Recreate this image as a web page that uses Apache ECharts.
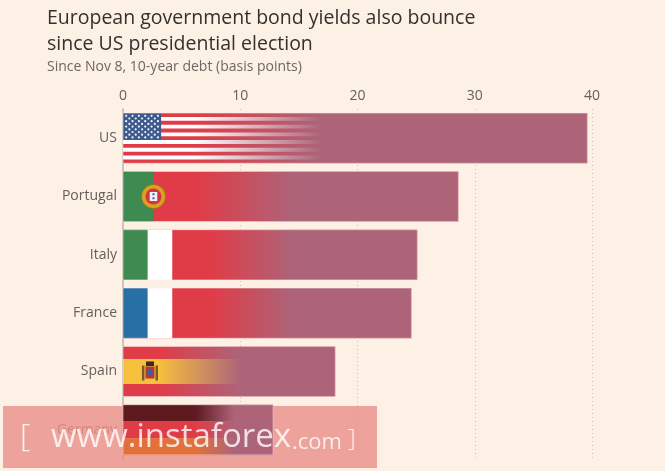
<!DOCTYPE html>
<html lang="en">
<head>
    <meta charset="UTF-8">
    <title>European government bond yields</title>
    <script src="https://cdn.jsdelivr.net/npm/echarts@6/dist/echarts.min.js"></script>
    <style>
        html, body { margin: 0; padding: 0; background: #fdf0e4; }
        #chart { width: 665px; height: 471px; }
    </style>
</head>
<body>
<div id="chart"></div>
<script>
    // data (change in basis points since Nov 8)
    var countries = ['US', 'Portugal', 'Italy', 'France', 'Spain', 'Germany'];
    var yieldChange = [39.6, 28.6, 25.1, 24.6, 18.1, 12.8];
    var xTicks = [0, 10, 20, 30, 40];

    var MAUVE = '173,100,121';
    var RED = '#e03c47';
    var WHITE = '#ffffff';

    // where each flag starts and ends fading into the bar colour (in basis points)
    var fadeRange = {
        US: [6.0, 17.0],
        Portugal: [6.4, 14.5],
        Italy: [7.5, 14.5],
        France: [7.5, 14.5],
        Spain: [3.0, 10.0],
        Germany: [6.2, 9.5]
    };

    function rect(x, y, w, h, fill) {
        return { type: 'rect', shape: { x: x, y: y, width: w, height: h }, style: { fill: fill } };
    }

    var flags = {
        US: function (x, y, w, h, u) {
            var out = [rect(x, y, w, h, RED)];
            var sh = h / 13;
            for (var k = 1; k < 13; k += 2) {
                out.push(rect(x, y + k * sh, w, sh, WHITE));
            }
            var cw = 0.76 * h, ch = 7 * sh;
            out.push(rect(x, y, cw, ch, '#3c5a8e'));
            for (var r = 0; r < 9; r++) {
                var n = r % 2 === 0 ? 6 : 5;
                for (var s = 0; s < n; s++) {
                    var cx = x + cw / 12 * (r % 2 === 0 ? 1 + 2 * s : 2 + 2 * s);
                    var cy = y + ch / 10 * (r + 1);
                    out.push({ type: 'circle', shape: { cx: cx, cy: cy, r: h * 0.022 }, style: { fill: '#f4f4f8' } });
                }
            }
            return out;
        },
        Portugal: function (x, y, w, h, u) {
            var gx = x + 2.6 * u, cy = y + h / 2;
            return [
                rect(x, y, w, h, RED),
                rect(x, y, 2.6 * u, h, '#3e8a50'),
                { type: 'circle', shape: { cx: gx, cy: cy, r: h * 0.24 }, style: { fill: '#d7a321', stroke: '#8f6c12', lineWidth: 0.6 } },
                { type: 'circle', shape: { cx: gx, cy: cy, r: h * 0.16 }, style: { fill: '#d63440' } },
                rect(gx - h * 0.075, cy - h * 0.09, h * 0.15, h * 0.18, '#f2f2f2'),
                rect(gx - h * 0.02, cy - h * 0.065, h * 0.04, h * 0.04, '#3a5ea8'),
                rect(gx - h * 0.02, cy + h * 0.015, h * 0.04, h * 0.04, '#3a5ea8')
            ];
        },
        Italy: function (x, y, w, h, u) {
            return [
                rect(x, y, w, h, RED),
                rect(x, y, 2.1 * u, h, '#3e8a50'),
                rect(x + 2.1 * u, y, 2.1 * u, h, WHITE)
            ];
        },
        France: function (x, y, w, h, u) {
            return [
                rect(x, y, w, h, RED),
                rect(x, y, 2.1 * u, h, '#2770a5'),
                rect(x + 2.1 * u, y, 2.1 * u, h, WHITE)
            ];
        },
        Spain: function (x, y, w, h, u) {
            var ex = x + 2.3 * u, cy = y + h / 2;
            return [
                rect(x, y, w, h, RED),
                rect(x, y + h / 4, w, h / 2, '#f7c13d'),
                rect(ex - h * 0.16, cy - h * 0.12, h * 0.05, h * 0.3, '#7a5a2a'),
                rect(ex + h * 0.11, cy - h * 0.12, h * 0.05, h * 0.3, '#7a5a2a'),
                rect(ex - h * 0.09, cy - h * 0.1, h * 0.18, h * 0.24, '#b8363a'),
                rect(ex - h * 0.05, cy - h * 0.05, h * 0.1, h * 0.12, '#3e5aa0'),
                rect(ex - h * 0.08, cy - h * 0.2, h * 0.16, h * 0.09, '#3a2a20')
            ];
        },
        Germany: function (x, y, w, h, u) {
            return [
                rect(x, y, w, h / 3, '#5e1a1f'),
                rect(x, y + h / 3, w, h / 3, RED),
                rect(x, y + 2 * h / 3, w, h / 3 + 0.5, '#e2703a')
            ];
        }
    };

    function renderItem(params, api) {
        var i = params.dataIndex;
        var v = api.value(0);
        var c = api.value(1);
        var p0 = api.coord([0, c]);
        var p1 = api.coord([v, c]);
        var h = api.size([0, 1])[1] * 0.86;
        var u = api.size([1, 0])[0];
        var x = p0[0], y = p0[1] - h / 2, w = p1[0] - p0[0];
        var name = countries[i];
        var children = flags[name](x, y, w, h, u);
        var f = fadeRange[name];
        children.push({
            type: 'rect',
            shape: { x: x, y: y, width: w, height: h },
            style: {
                fill: new echarts.graphic.LinearGradient(0, 0, 1, 0, [
                    { offset: 0, color: 'rgba(' + MAUVE + ',0)' },
                    { offset: Math.min(f[0] / v, 1), color: 'rgba(' + MAUVE + ',0)' },
                    { offset: Math.min(f[1] / v, 1), color: 'rgba(' + MAUVE + ',1)' },
                    { offset: 1, color: 'rgba(' + MAUVE + ',1)' }
                ]),
                stroke: 'rgba(255,235,235,0.5)',
                lineWidth: 1
            }
        });
        return { type: 'group', children: children };
    }

    var myChart = echarts.init(document.getElementById('chart'));

    var option = {
        backgroundColor: '#fdf0e4',
        animation: false,
        textStyle: { fontFamily: 'Open Sans' },
        title: {
            text: 'European government bond yields also bounce\nsince US presidential election',
            subtext: 'Since Nov 8, 10-year debt (basis points)',
            left: 42,
            top: 0,
            itemGap: 3,
            textStyle: { fontSize: 19.5, lineHeight: 26, fontWeight: 'normal', color: '#33302e', fontFamily: 'Open Sans' },
            subtextStyle: { fontSize: 14, color: '#6d6762', fontFamily: 'Open Sans' }
        },
        grid: { left: 123, right: 73, top: 109, bottom: 12 },
        xAxis: {
            type: 'value',
            position: 'top',
            min: xTicks[0],
            max: xTicks[xTicks.length - 1],
            interval: xTicks[1] - xTicks[0],
            axisLine: { show: false },
            axisTick: { show: false },
            axisLabel: { color: '#66605c', fontSize: 14, margin: 6 },
            splitLine: { lineStyle: { color: '#cbc1b8', type: [1, 3] } }
        },
        yAxis: {
            type: 'category',
            data: countries,
            inverse: true,
            axisLine: { show: true, lineStyle: { color: '#c2b8ae', width: 1.5 } },
            axisTick: { show: false },
            axisLabel: {
                fontSize: 14,
                margin: 6,
                color: function (value) {
                    return value === 'Germany' ? '#c07e78' : '#66605c';
                }
            },
            splitLine: { show: false }
        },
        series: [{
            type: 'custom',
            z: 3,
            renderItem: renderItem,
            encode: { x: 0, y: 1 },
            data: countries.map(function (c, i) { return [yieldChange[i], i]; })
        }],
        graphic: [
            {
                type: 'rect', z: 1, silent: true,
                shape: { x: 3, y: 406, width: 374, height: 62 },
                style: { fill: 'rgba(230,129,124,0.7)' }
            },
            {
                type: 'text', z: 100, silent: true, x: 20, y: 437,
                style: { text: '[', fill: 'rgba(255,255,255,0.85)', font: '300 32px "Open Sans"', verticalAlign: 'middle' }
            },
            {
                type: 'text', z: 100, silent: true, x: 51, y: 438,
                style: { text: 'www.instaforex', fill: 'rgba(255,255,255,0.8)', font: '33px "Open Sans"', verticalAlign: 'middle' }
            },
            {
                type: 'text', z: 100, silent: true, x: 292, y: 443,
                style: { text: '.com', fill: 'rgba(255,255,255,0.8)', font: '22px "Open Sans"', verticalAlign: 'middle' }
            },
            {
                type: 'text', z: 100, silent: true, x: 348, y: 439,
                style: { text: ']', fill: 'rgba(255,255,255,0.85)', font: '300 24px "Open Sans"', verticalAlign: 'middle' }
            }
        ]
    };
    myChart.setOption(option);
</script>
</body>
</html>
